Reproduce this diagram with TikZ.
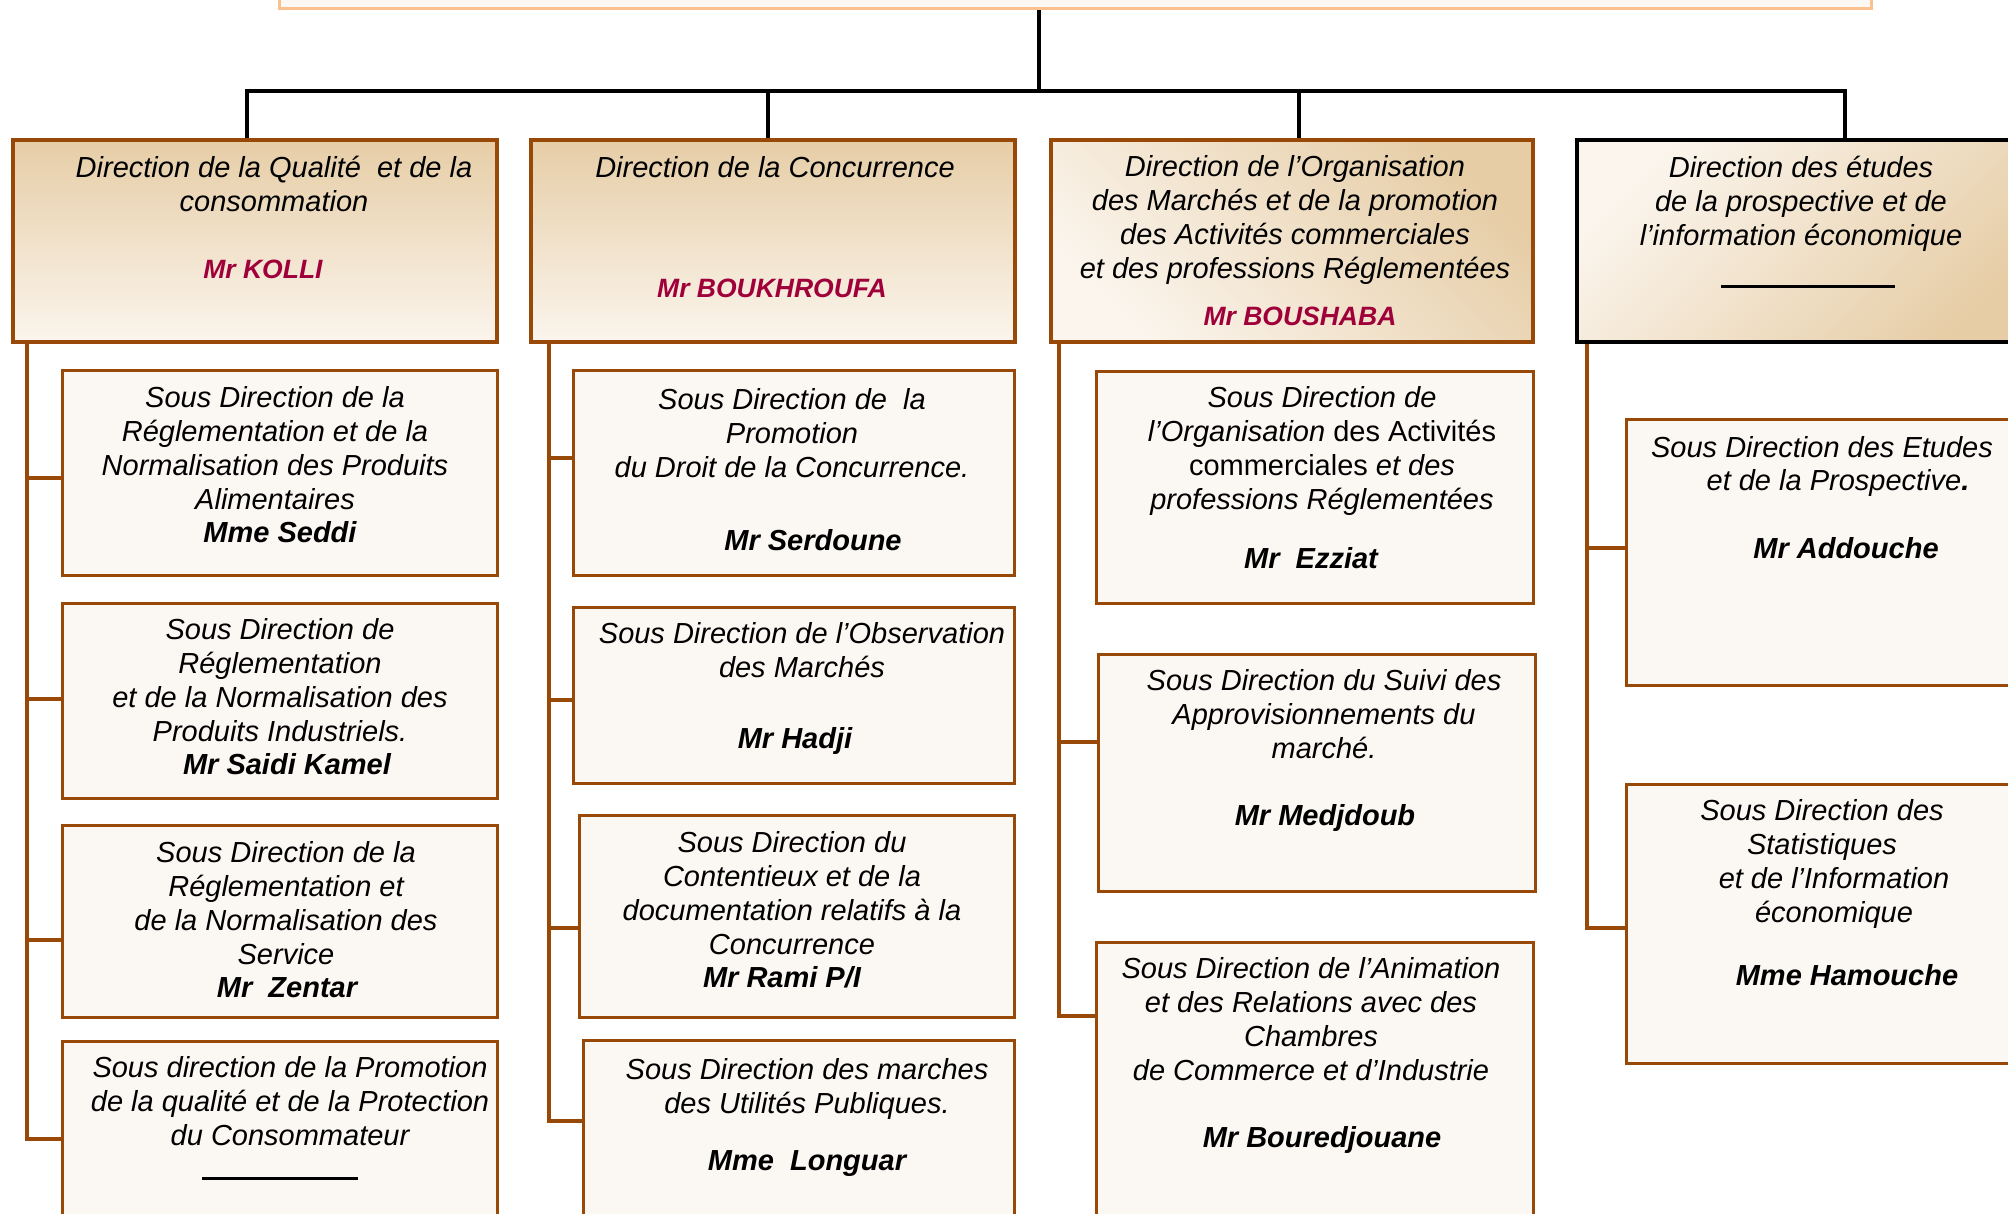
\documentclass[tikz,border=0pt]{standalone}
\usepackage{fontspec}
\setmainfont{Liberation Sans}
\usetikzlibrary{calc}
\definecolor{brn}{RGB}{152,72,7}
\definecolor{dtan}{RGB}{230,205,166}
\definecolor{lite}{RGB}{251,245,237}
\definecolor{sfill}{RGB}{251,247,243}
\definecolor{peach}{RGB}{250,192,143}
\definecolor{topfill}{RGB}{253,248,243}
\definecolor{namered}{RGB}{160,0,58}
\tikzset{
  dbox/.style={draw=brn, line width=3.5pt, rectangle, inner sep=0pt, anchor=north west},
  sbox/.style={draw=brn, line width=3pt, fill=sfill, rectangle, inner sep=0pt, anchor=north west},
  txt/.style={font=\fontsize{29}{34}\selectfont\itshape, align=center, inner sep=0pt, anchor=base},
  nm/.style={font=\fontsize{29}{34}\selectfont\bfseries\itshape, inner sep=0pt, anchor=base},
  dnm/.style={font=\fontsize{26.5}{32}\selectfont\bfseries\itshape, text=namered, inner sep=0pt, anchor=base},
  blk/.style={draw=black, line width=3.5pt},
  brl/.style={draw=brn, line width=3.5pt},
  blank/.style={draw=black, line width=3pt},
}
\begin{document}
\begin{tikzpicture}[x=1pt,y=-1pt]
\useasboundingbox (0,0) rectangle (2008,1213);
\clip (0,0) rectangle (2008,1213);
% top box
\node[draw=peach, line width=3pt, fill=topfill, minimum width=1592pt, minimum height=80pt, anchor=south west, inner sep=0pt] (top) at (278,10) {};
% director boxes
\node[dbox, top color=dtan, bottom color=lite, minimum width=484pt, minimum height=202pt] (d1) at (11,138) {};
\node[dbox, top color=dtan, bottom color=lite, minimum width=484pt, minimum height=202pt] (d2) at (529,138) {};
\node[dbox, top color=dtan, bottom color=lite, shading angle=-45, minimum width=482pt, minimum height=202pt] (d3) at (1049,138) {};
\node[dbox, draw=black, line width=4pt, top color=lite, bottom color=dtan, shading angle=45, minimum width=465pt, minimum height=202pt] (d4) at (1575,138) {};
% sub-direction boxes
\node[sbox, minimum width=435pt, minimum height=205pt] (s1) at (61,369) {};
\node[sbox, minimum width=435pt, minimum height=195pt] (s2) at (61,602) {};
\node[sbox, minimum width=435pt, minimum height=192pt] (s3) at (61,824) {};
\node[sbox, minimum width=435pt, minimum height=220pt] (s4) at (61,1040) {};
\node[sbox, minimum width=441pt, minimum height=205pt] (s5) at (572,369) {};
\node[sbox, minimum width=441pt, minimum height=176pt] (s6) at (572,606) {};
\node[sbox, minimum width=435pt, minimum height=202pt] (s7) at (578,814) {};
\node[sbox, minimum width=431pt, minimum height=221pt] (s8) at (582,1039) {};
\node[sbox, minimum width=437pt, minimum height=232pt] (s9) at (1095,370) {};
\node[sbox, minimum width=437pt, minimum height=237pt] (s10) at (1097,653) {};
\node[sbox, minimum width=437pt, minimum height=319pt] (s11) at (1095,941) {};
\node[sbox, minimum width=415pt, minimum height=266pt] (s12) at (1625,418) {};
\node[sbox, minimum width=415pt, minimum height=279pt] (s13) at (1625,783) {};
% black connectors
\coordinate (jt) at (1039,91);
\coordinate (j1) at (247,91);
\coordinate (j2) at (768,91);
\coordinate (j3) at (1299,91);
\coordinate (j4) at (1845,91);
\draw[blk] (jt |- top.south) -- (jt);
\draw[blk] (j1 |- d1.north) -- (j1) -- (j4) -- (j4 |- d4.north);
\draw[blk] (j2) -- (j2 |- d2.north);
\draw[blk] (j3) -- (j3 |- d3.north);
% brown branch connectors
\coordinate (k1) at (27,478);
\coordinate (k2) at (27,699);
\coordinate (k3) at (27,940);
\coordinate (k4) at (27,1139);
\draw[brl] (d1.south -| k1) -- (k4) -- (k4 -| s4.west);
\draw[brl] (k1) -- (k1 -| s1.west);
\draw[brl] (k2) -- (k2 -| s2.west);
\draw[brl] (k3) -- (k3 -| s3.west);
\coordinate (m1) at (549,458);
\coordinate (m2) at (549,700);
\coordinate (m3) at (549,928);
\coordinate (m4) at (549,1121);
\draw[brl] (d2.south -| m1) -- (m4) -- (m4 -| s8.west);
\draw[brl] (m1) -- (m1 -| s5.west);
\draw[brl] (m2) -- (m2 -| s6.west);
\draw[brl] (m3) -- (m3 -| s7.west);
\coordinate (n1) at (1059,742);
\coordinate (n2) at (1059,1016);
\draw[brl] (d3.south -| n1) -- (n2) -- (n2 -| s11.west);
\draw[brl] (n1) -- (n1 -| s10.west);
\coordinate (p1) at (1587,548);
\coordinate (p2) at (1587,928);
\draw[brl] (d4.south -| p1) -- (p2) -- (p2 -| s13.west);
\draw[brl] (p1) -- (p1 -| s12.west);
% director texts (anchor = baseline of last line)
\node[txt] (d1t) at (274,211) {Direction de la Qualité~ et de la\\consommation};
\node[dnm] (d1n) at (263,278) {Mr KOLLI};
\node[txt] (d2t) at (775,177) {Direction de la Concurrence};
\node[dnm] (d2n) at (772,297) {Mr BOUKHROUFA};
\node[txt] (d3t) at (1295,278) {Direction de l’Organisation\\des Marchés et de la promotion\\des Activités commerciales\\et des professions Réglementées};
\node[dnm] (d3n) at (1300,325) {Mr BOUSHABA};
\node[txt] (d4t) at (1801,245) {Direction des études\\de la prospective et de\\l’information économique};
\draw[blank] (1721,286) -- (1895,286);
% sub-direction texts
\node[txt] (s1t) at (275,509) {Sous Direction de la\\Réglementation et de la\\Normalisation des Produits\\Alimentaires};
\node[nm] (s1n) at (280,542) {Mme Seddi};
\node[txt] (s2t) at (280,741) {Sous Direction de\\Réglementation\\et de la Normalisation des\\Produits Industriels.};
\node[nm] (s2n) at (287,774) {Mr Saidi Kamel};
\node[txt] (s3t) at (286,964) {Sous Direction de la\\Réglementation et\\de la Normalisation des\\Service};
\node[nm] (s3n) at (287,997) {Mr~~Zentar};
\node[txt] (s4t) at (290,1145) {Sous direction de la Promotion\\de la qualité et de la Protection\\du Consommateur};
\draw[blank] (202,1178) -- (358,1178);
\node[txt] (s5t) at (792,477) {Sous Direction de~~la\\Promotion\\du Droit de la Concurrence.};
\node[nm] (s5n) at (813,550) {Mr Serdoune};
\node[txt] (s6t) at (802,677) {Sous Direction de l’Observation\\des Marchés};
\node[nm] (s6n) at (795,748) {Mr Hadji};
\node[txt] (s7t) at (792,954) {Sous Direction du\\Contentieux et de la\\documentation relatifs à la\\Concurrence};
\node[nm] (s7n) at (782,987) {Mr Rami P/I};
\node[txt] (s8t) at (807,1113) {Sous Direction des marches\\des Utilités Publiques.};
\node[nm] (s8n) at (807,1170) {Mme~~Longuar};
\node[txt] (s9t) at (1322,509) {Sous Direction de\\l’Organisation {\upshape des Activités}\\{\upshape commerciales} et des\\professions Réglementées};
\node[nm] (s9n) at (1311,568) {Mr~~Ezziat};
\node[txt] (s10t) at (1324,758) {Sous Direction du Suivi des\\Approvisionnements du\\marché.};
\node[nm] (s10n) at (1325,825) {Mr Medjdoub};
\node[txt] (s11t) at (1311,1080) {Sous Direction de l’Animation\\et des Relations avec des\\Chambres\\de Commerce et d’Industrie};
\node[nm] (s11n) at (1322,1147) {Mr Bouredjouane};
\node[txt] (s12t) at (1822,457) {Sous Direction des Etudes};
\node[txt] (s12u) at (1838,490) {et de la Prospective\textbf{.}};
\node[nm] (s12n) at (1846,558) {Mr Addouche};
\node[txt] (s13t) at (1822,854) {Sous Direction des\\Statistiques};
\node[txt] (s13u) at (1834,922) {et de l’Information\\économique};
\node[nm] (s13n) at (1847,985) {Mme Hamouche};
\end{tikzpicture}
\end{document}
